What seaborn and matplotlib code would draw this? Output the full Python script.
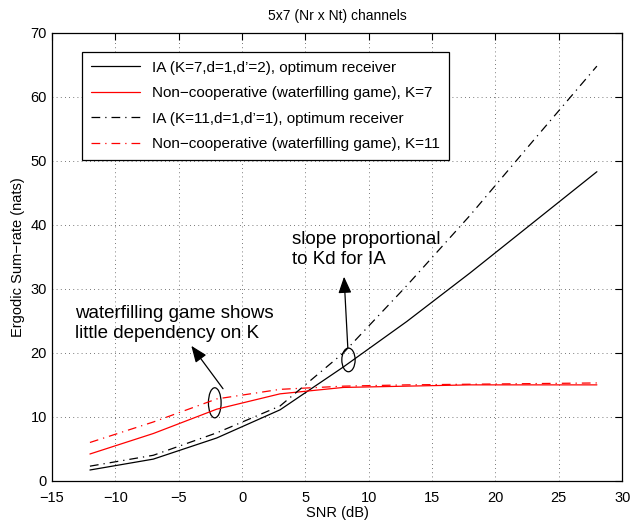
import numpy as np
import pandas as pd
import matplotlib
matplotlib.use('Agg')
import matplotlib.pyplot as plt
import seaborn as sns
from matplotlib.patches import Ellipse

# values
snr = [-12, -7, -2, 3, 8, 13, 18, 23, 28]
ia_k7 = [1.7, 3.4, 6.7, 11.1, 17.8, 24.9, 32.5, 40.4, 48.3]
wf_k7 = [4.2, 7.4, 11.2, 13.6, 14.6, 14.8, 15.0, 15.0, 15.0]
ia_k11 = [2.3, 4.0, 7.5, 11.7, 20.0, 30.5, 41.5, 53.2, 64.8]
wf_k11 = [6.0, 9.2, 12.8, 14.3, 14.8, 15.0, 15.1, 15.2, 15.3]

labels = ["IA (K=7,d=1,d\u2019=2), optimum receiver",
          "Non\u2212cooperative (waterfilling game), K=7",
          "IA (K=11,d=1,d\u2019=1), optimum receiver",
          "Non\u2212cooperative (waterfilling game), K=11"]
colors = ['black', 'red', 'black', 'red']
styles = ['-', '-', (0, (7, 4, 1, 4)), (0, (7, 4, 1, 4))]

sns.set_style("white")
plt.rcParams['font.family'] = ['Liberation Sans', 'DejaVu Sans']
plt.rcParams['axes.unicode_minus'] = True
plt.rcParams['text.color'] = 'black'
plt.rcParams['axes.labelcolor'] = 'black'

fig = plt.figure(figsize=(6.33, 5.21), dpi=100)
ax = fig.add_axes([0.082, 0.077, 0.901, 0.860])

for ys, lab, c, ls in zip([ia_k7, wf_k7, ia_k11, wf_k11], labels, colors, styles):
    df = pd.DataFrame({'snr': snr, 'rate': ys})
    sns.lineplot(data=df, x='snr', y='rate', ax=ax, color=c, linestyle=ls,
                 linewidth=0.9, label=lab)

ax.set_xlim(-15, 30)
ax.set_ylim(0, 70)
ax.set_xticks(np.arange(-15, 31, 5))
ax.set_yticks(np.arange(0, 71, 10))
ax.grid(True, linestyle=(0, (1, 4)), color='black', linewidth=0.6, alpha=0.7)
ax.tick_params(direction='in', length=5, width=0.8, top=True, right=True,
               labelsize=10.5, colors='black')
ax.tick_params(axis='x', pad=7)
for s in ax.spines.values():
    s.set_color('black')
    s.set_linewidth(0.9)

ax.set_title("5x7 (Nr x Nt) channels", fontsize=10, pad=9, color='black')
ax.set_xlabel("SNR (dB)", fontsize=10.5, labelpad=1)
ax.set_ylabel("Ergodic Sum\u2212rate (nats)", fontsize=10.5, labelpad=4)

leg = ax.legend(loc='upper left', bbox_to_anchor=(0.053, 0.958), borderaxespad=0,
                fancybox=False, framealpha=1, edgecolor='black', fontsize=11,
                handlelength=3.2, labelspacing=0.75, borderpad=0.6)
leg.get_frame().set_linewidth(0.9)
for t in leg.get_texts():
    t.set_color('black')

# annotations
ax.add_patch(Ellipse((-2.15, 12.2), 1.0, 4.7, fill=False, color='black', lw=0.9))
ax.add_patch(Ellipse((8.4, 18.9), 1.05, 3.7, fill=False, color='black', lw=0.9))
arrow = dict(arrowstyle='-|>,head_length=1.0,head_width=0.4', color='black', lw=0.9,
             shrinkA=0, shrinkB=0)
ax.annotate("", xy=(-4.0, 21.1), xytext=(-1.5, 14.4), arrowprops=arrow)
ax.annotate("", xy=(8.05, 31.9), xytext=(8.35, 20.7), arrowprops=arrow)
ax.text(3.95, 39.0, "slope proportional\nto Kd for IA", fontsize=13.5, va='top',
        ha='left', linespacing=1.2, color='black')
ax.text(-13.2, 27.4, "waterfilling game shows\nlittle dependency on K", fontsize=13.5,
        va='top', ha='left', linespacing=1.2, color='black')

fig.savefig('out.png', dpi=100)
